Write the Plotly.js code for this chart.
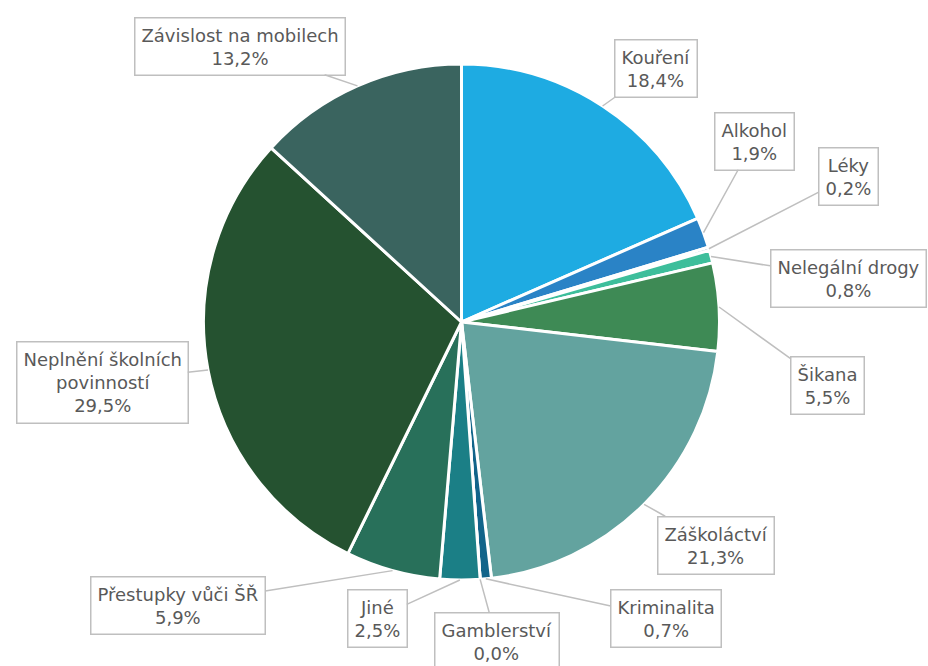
<!DOCTYPE html>
<html>
<head>
<meta charset="utf-8">
<script src="https://cdn.plot.ly/plotly-3.0.1.min.js"></script>
<style>html,body{margin:0;padding:0;background:#fff;}#chart{width:928px;height:666px;}</style>
</head>
<body>
<div id="chart"></div>
<script>
// ---- data ----
const categories = ["Kouření", "Alkohol", "Léky", "Nelegální drogy", "Šikana", "Záškoláctví",
  "Kriminalita", "Gamblerství", "Jiné", "Přestupky vůči ŠŘ", "Neplnění školních<br>povinností", "Závislost na mobilech"];
const values = [18.4, 1.9, 0.2, 0.8, 5.5, 21.3, 0.7, 0.0, 2.5, 5.9, 29.5, 13.2];
const valueLabels = ["18,4%", "1,9%", "0,2%", "0,8%", "5,5%", "21,3%", "0,7%", "0,0%", "2,5%", "5,9%", "29,5%", "13,2%"];

// ---- styling / layout ----
const colors = ["#1EABE2", "#2A83C6", "#2E6FA8", "#3DBE9B", "#3E8A55", "#63A39F",
  "#11648A", "#1A6E8E", "#1B7F86", "#28705A", "#255230", "#3A645F"];
const W = 928, H = 666;
const cx = 461.5, cy = 322, R = 258;
// callout box centres (pixels)
const boxPos = [[656, 68], [754, 141], [848, 177], [848, 278], [827, 385], [716, 545],
  [666, 618], [497, 641], [377, 618], [178, 605], [102, 382], [240, 46]];

const total = values.reduce((a, b) => a + b, 0);
let cum = 0;
const annotations = [];
values.forEach((v, i) => {
  const mid = (cum + v / 2) / total * 2 * Math.PI;
  cum += v;
  const tx = cx + R * Math.sin(mid);
  const ty = cy - R * Math.cos(mid);
  annotations.push({
    xref: "paper", yref: "paper",
    x: tx / W, y: 1 - ty / H,
    ax: boxPos[i][0] - tx, ay: boxPos[i][1] - ty,
    text: categories[i] + "<br>" + valueLabels[i],
    showarrow: true, arrowhead: 0, arrowwidth: 1.5, arrowcolor: "#BFBFBF", standoff: 0,
    bordercolor: "#BFBFBF", borderwidth: 1.5, borderpad: 6, bgcolor: "#FFFFFF",
    font: {family: "DejaVu Sans, sans-serif", size: 18, color: "#595959"},
    align: "center"
  });
});

const trace = {
  type: "pie",
  labels: categories,
  values: values,
  sort: false,
  direction: "clockwise",
  rotation: 0,
  textinfo: "none",
  hoverinfo: "label+percent",
  marker: {colors: colors, line: {color: "#FFFFFF", width: 3}},
  domain: {x: [(cx - R) / W, (cx + R) / W], y: [1 - (cy + R) / H, 1 - (cy - R) / H]}
};

const layout = {
  width: W, height: H,
  margin: {l: 0, r: 0, t: 0, b: 0},
  showlegend: false,
  paper_bgcolor: "#FFFFFF",
  annotations: annotations
};

Plotly.newPlot("chart", [trace], layout, {displayModeBar: false, staticPlot: true});
</script>
</body>
</html>
